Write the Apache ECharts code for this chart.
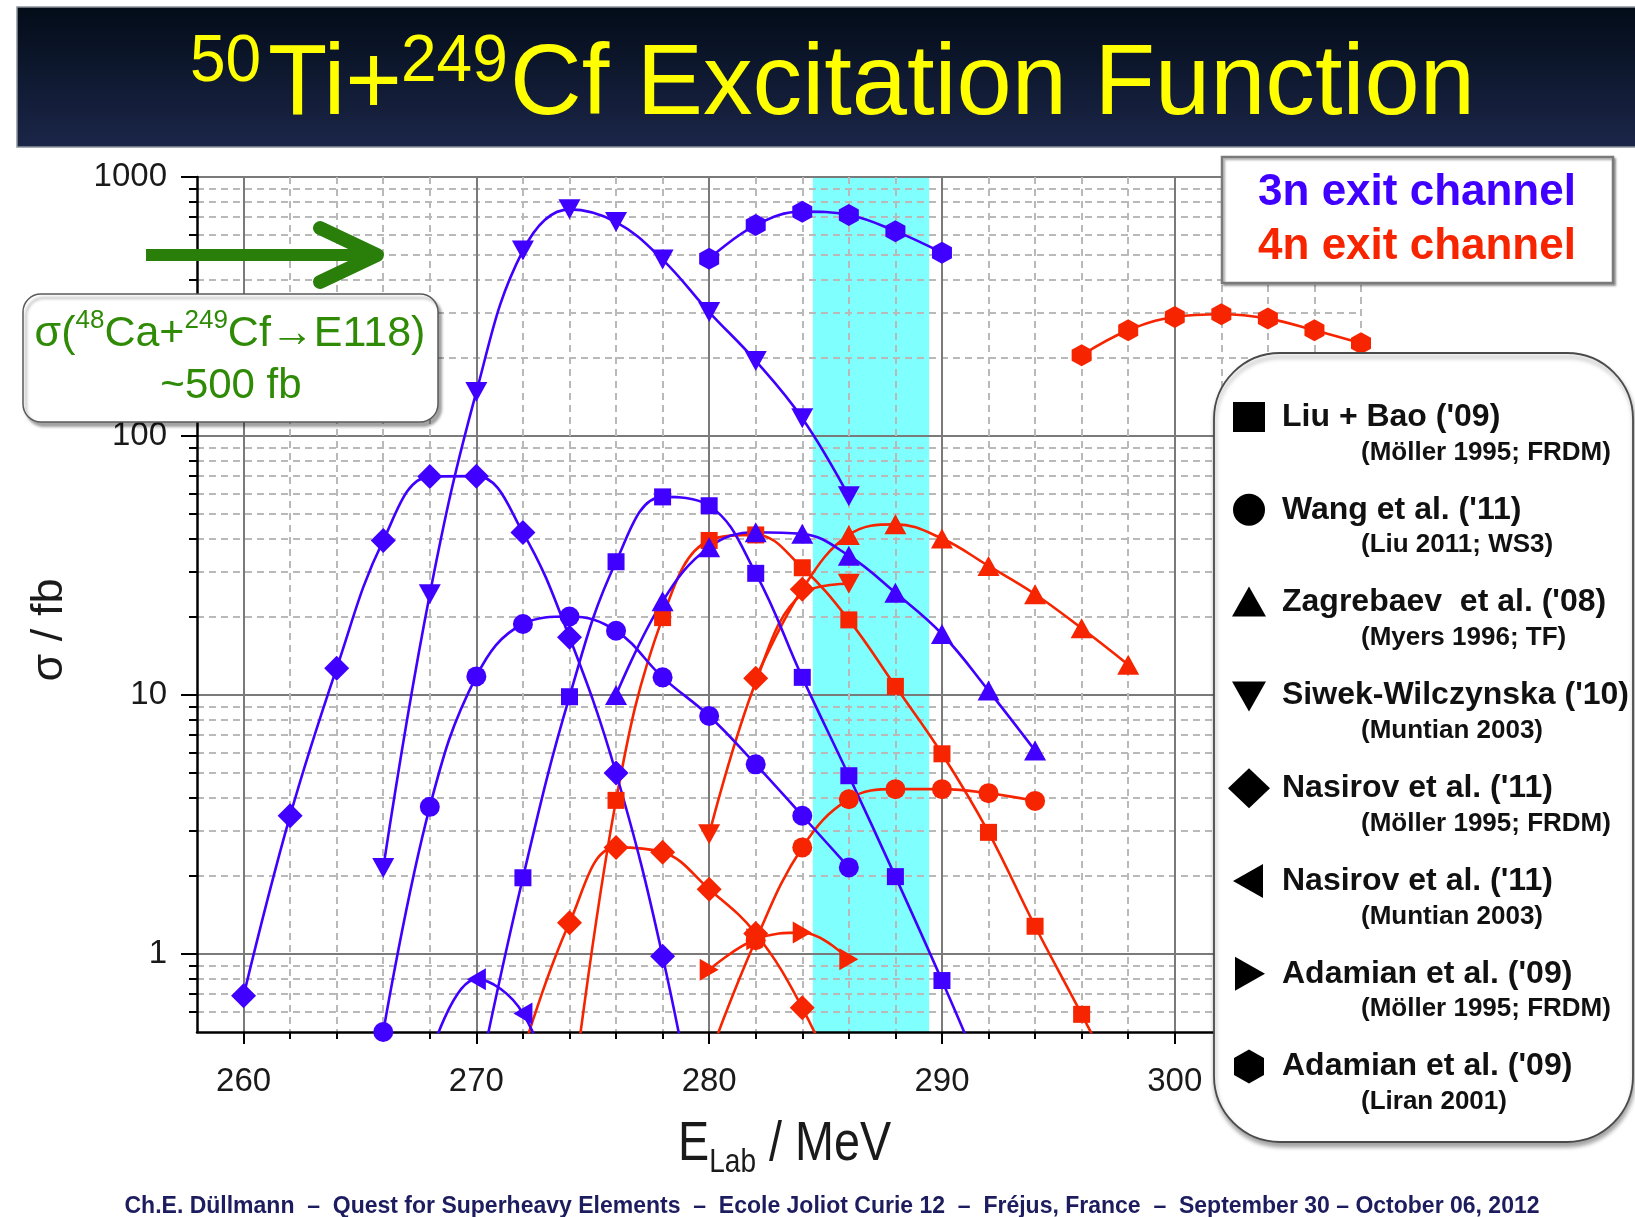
<!DOCTYPE html>
<html>
<head>
<meta charset="utf-8">
<title>50Ti+249Cf Excitation Function</title>
<script src="https://cdn.jsdelivr.net/npm/echarts@6/dist/echarts.min.js"></script>
<style>
  html, body { margin: 0; padding: 0; background: #ffffff; }
  #chart { width: 1635px; height: 1217px; }
</style>
</head>
<body>
<div id="chart"></div>
<script>
// ---------------------------------------------------------------
// Axis ticks (E_Lab in MeV, cross section in fb)
// ---------------------------------------------------------------
const X_MAJOR = [260, 270, 280, 290, 300];
const X_MINOR = [262, 264, 266, 268, 272, 274, 276, 278, 282, 284, 286, 288,
                 292, 294, 296, 298, 302, 304, 306, 308];
const Y_MAJOR = [1, 10, 100, 1000];
const Y_MINOR = [0.6, 0.7, 0.8, 0.9, 2, 3, 4, 5, 6, 7, 8, 9,
                 20, 30, 40, 50, 60, 70, 80, 90, 200, 300, 400, 500, 600, 700, 800, 900];

// Beam energy window (MeV) and the 48Ca+249Cf reference cross section (fb)
const BEAM_WINDOW = [284.45, 289.45];
const SIGMA_CA48 = 500;

// ---------------------------------------------------------------
// 3n exit channel  [E_Lab (MeV), sigma (fb)]
// ---------------------------------------------------------------
const LIU_3N      = [[270, 0.3], [272, 1.97], [274, 9.85], [276, 32.7], [278, 58.2], [280, 53.8],
                     [282, 29.5], [284, 11.7], [286, 4.88], [288, 1.99], [290, 0.79], [292, 0.3]];
const WANG_3N     = [[266, 0.5], [268, 3.7], [270, 11.8], [272, 18.8], [274, 20.1], [276, 17.7],
                     [278, 11.7], [280, 8.3], [282, 5.4], [284, 3.42], [286, 2.16]];
const ZAGREBAEV_3N = [[276, 10.0], [278, 23.0], [280, 37.2], [282, 42.5], [284, 41.9], [286, 34.5],
                     [288, 24.8], [290, 17.2], [292, 10.4], [294, 6.1]];
const SIWEK_3N    = [[266, 2.15], [268, 24.5], [270, 148], [272, 520], [274, 750], [276, 670],
                     [278, 480], [280, 301], [282, 195], [284, 117], [286, 58.5]];
const NASIROV_FRDM_3N = [[260, 0.69], [262, 3.42], [264, 12.7], [266, 39.5], [268, 69.7], [270, 70.0],
                     [272, 42.4], [274, 16.7], [276, 5.0], [278, 0.98], [280, 0.12]];
const NASIROV_MUNT_3N = [[268, 0.4], [270, 0.8], [272, 0.59], [274, 0.2]];
const ADAMIAN_LIRAN_3N = [[280, 484], [282, 652], [284, 735], [286, 713], [288, 618], [290, 510]];

// ---------------------------------------------------------------
// 4n exit channel  [E_Lab (MeV), sigma (fb)]
// ---------------------------------------------------------------
const LIU_4N      = [[274, 0.23], [276, 3.92], [278, 19.9], [280, 39.5], [282, 41.5], [284, 31.0],
                     [286, 19.5], [288, 10.8], [290, 5.93], [292, 2.95], [294, 1.28], [296, 0.585], [298, 0.26]];
const WANG_4N     = [[280, 0.4], [282, 1.13], [284, 2.58], [286, 3.96], [288, 4.33], [290, 4.33],
                     [292, 4.18], [294, 3.9]];
const ZAGREBAEV_4N = [[282, 11.6], [284, 25.6], [286, 41.5], [288, 45.6], [290, 40.2], [292, 31.5],
                     [294, 24.5], [296, 18.1], [298, 13.1]];
const SIWEK_4N    = [[280, 2.9], [282, 11.2], [284, 24.6], [286, 26.9]];
const NASIROV_FRDM_4N = [[272, 0.42], [274, 1.32], [276, 2.58], [278, 2.47], [280, 1.78], [282, 1.2],
                     [284, 0.62], [286, 0.25]];
const ADAMIAN_FRDM_4N = [[280, 0.87], [282, 1.14], [284, 1.21], [286, 0.954]];
const ADAMIAN_LIRAN_4N = [[296, 205], [298, 256], [300, 288], [302, 295], [304, 284], [306, 256], [308, 228]];

// Legend rows: marker, model, mass table
const LEGEND_ROWS = [
  ['square',  "Liu + Bao ('09)",          '(Möller 1995; FRDM)'],
  ['circle',  "Wang et al. ('11)",        '(Liu 2011; WS3)'],
  ['up',      "Zagrebaev  et al. ('08)",  '(Myers 1996; TF)'],
  ['down',    "Siwek-Wilczynska ('10)",   '(Muntian 2003)'],
  ['diamond', "Nasirov et al. ('11)",     '(Möller 1995; FRDM)'],
  ['left',    "Nasirov et al. ('11)",     '(Muntian 2003)'],
  ['right',   "Adamian et al. ('09)",     '(Möller 1995; FRDM)'],
  ['hex',     "Adamian et al. ('09)",     '(Liran 2001)']
];

// ---------------------------------------------------------------
// Styling
// ---------------------------------------------------------------
const FONT = '"Liberation Sans", Arial, Helvetica, sans-serif';
const BLUE = '#4000ff';
const RED = '#f72400';
const GREEN = '#2f8a06';

const SYM = {
  square: 'rect',
  circle: 'circle',
  up: 'triangle',
  down: 'path://M0,0L2,0L1,1.75Z',
  diamond: 'diamond',
  left: 'path://M1.75,0L0,1L1.75,2Z',
  right: 'path://M0,0L1.75,1L0,2Z',
  hex: 'path://M1,0L1.87,0.5L1.87,1.5L1,2L0.13,1.5L0.13,0.5Z'
};
const SYM_SIZE = {
  square: [17, 17], circle: [20, 20], up: [22, 20], down: [22, 20],
  diamond: [25, 25], left: [19, 22], right: [19, 22], hex: [20, 22]
};

function curve(name, data, color, shape, overrides) {
  return {
    type: 'line',
    name: name,
    xAxisIndex: 0,
    yAxisIndex: 0,
    z: 3,
    data: data.map(function (p) {
      const o = overrides && overrides[p[0]];
      return o ? Object.assign({ value: p }, o) : p;
    }),
    smooth: 0.4,
    symbol: SYM[shape],
    symbolSize: SYM_SIZE[shape],
    showAllSymbol: true,
    clip: true,
    silent: true,
    lineStyle: { color: color, width: 2.6 },
    itemStyle: { color: color, borderWidth: 0 },
    emphasis: { disabled: true },
    animation: false
  };
}

const diamondAt = { symbol: SYM.diamond, symbolSize: SYM_SIZE.diamond };
const hiddenAt = { symbol: 'none' };

const series = [
  // beam energy window
  {
    type: 'line', name: 'window', xAxisIndex: 0, yAxisIndex: 0, data: [], z: 1, silent: true,
    animation: false,
    markArea: {
      silent: true,
      itemStyle: { color: '#80ffff' },
      data: [[{ xAxis: BEAM_WINDOW[0] }, { xAxis: BEAM_WINDOW[1] }]]
    }
  },
  // 4n
  curve('Liu 4n', LIU_4N, RED, 'square'),
  curve('Wang 4n', WANG_4N, RED, 'circle'),
  curve('Siwek 4n', SIWEK_4N, RED, 'down', { 282: hiddenAt, 284: hiddenAt }),
  curve('Zagrebaev 4n', ZAGREBAEV_4N, RED, 'up', { 282: diamondAt, 284: diamondAt }),
  curve('Nasirov FRDM 4n', NASIROV_FRDM_4N, RED, 'diamond'),
  curve('Adamian FRDM 4n', ADAMIAN_FRDM_4N, RED, 'right'),
  curve('Adamian Liran 4n', ADAMIAN_LIRAN_4N, RED, 'hex'),
  // 3n
  curve('Liu 3n', LIU_3N, BLUE, 'square'),
  curve('Wang 3n', WANG_3N, BLUE, 'circle'),
  curve('Zagrebaev 3n', ZAGREBAEV_3N, BLUE, 'up'),
  curve('Siwek 3n', SIWEK_3N, BLUE, 'down'),
  curve('Nasirov FRDM 3n', NASIROV_FRDM_3N, BLUE, 'diamond'),
  curve('Nasirov Muntian 3n', NASIROV_MUNT_3N, BLUE, 'left'),
  curve('Adamian Liran 3n', ADAMIAN_LIRAN_3N, BLUE, 'hex')
];

const axisFont = { color: '#1a1a1a', fontSize: 33, fontFamily: FONT, formatter: function (v) { return String(v); } };

const option = {
  backgroundColor: '#ffffff',
  animation: false,
  grid: { left: 197, top: 177, width: 1164, height: 855, containLabel: false },
  xAxis: [
    {
      type: 'value', position: 'bottom', min: 258, max: 308, z: 2,
      axisLine: { onZero: false, lineStyle: { color: '#000', width: 2.5 } },
      axisTick: { customValues: X_MAJOR, length: 12, lineStyle: { color: '#000', width: 2 } },
      axisLabel: Object.assign({ customValues: X_MAJOR, margin: 33 }, axisFont),
      splitLine: { show: true, lineStyle: { color: '#7a7a7a', width: 2 } }
    },
    {
      type: 'value', position: 'bottom', min: 258, max: 308, z: 2,
      axisLine: { show: false, onZero: false },
      axisTick: { customValues: X_MINOR, length: 7, lineStyle: { color: '#000', width: 2 } },
      axisLabel: { show: false },
      splitLine: { show: true, lineStyle: { color: '#b9b9b9', width: 2, type: [7, 5] } }
    }
  ],
  yAxis: [
    {
      type: 'log', logBase: 10, position: 'left', min: 0.5, max: 1000, z: 2,
      axisLine: { onZero: false, lineStyle: { color: '#000', width: 2.5 } },
      axisTick: { customValues: Y_MAJOR, length: 16, lineStyle: { color: '#000', width: 2 } },
      axisLabel: Object.assign({ customValues: Y_MAJOR, margin: 30 }, axisFont),
      splitLine: { show: true, lineStyle: { color: '#7a7a7a', width: 2 } }
    },
    {
      type: 'log', logBase: 10, position: 'left', min: 0.5, max: 1000, z: 2,
      axisLine: { show: false, onZero: false },
      axisTick: { customValues: Y_MINOR, length: 8, lineStyle: { color: '#000', width: 2 } },
      axisLabel: { show: false },
      splitLine: { show: true, lineStyle: { color: '#b9b9b9', width: 2, type: [7, 5] } }
    }
  ],
  series: series
};

const chart = echarts.init(document.getElementById('chart'), null, { renderer: 'canvas' });
chart.setOption(option);

// ---------------------------------------------------------------
// Annotations, title and the model legend
// ---------------------------------------------------------------
function text(x, y, str, size, color, extra) {
  return Object.assign({
    type: 'text', x: x, y: y, z: 60, silent: true,
    style: Object.assign({
      text: str, fontSize: size, fontFamily: FONT, fill: color,
      align: 'left', textAlign: 'left', verticalAlign: 'middle', textVerticalAlign: 'middle'
    }, (extra && extra.style) || {})
  }, extra && extra.el);
}

function marker(shape, cx, cy) {
  const fill = { fill: '#000' };
  switch (shape) {
    case 'square': return { type: 'rect', shape: { x: cx - 16, y: cy - 15, width: 32, height: 30 }, style: fill, z: 60 };
    case 'circle': return { type: 'circle', shape: { cx: cx, cy: cy, r: 16 }, style: fill, z: 60 };
    case 'up': return { type: 'polygon', shape: { points: [[cx - 17, cy + 14], [cx + 17, cy + 14], [cx, cy - 16]] }, style: fill, z: 60 };
    case 'down': return { type: 'polygon', shape: { points: [[cx - 17, cy - 14], [cx + 17, cy - 14], [cx, cy + 16]] }, style: fill, z: 60 };
    case 'diamond': return { type: 'polygon', shape: { points: [[cx - 21, cy], [cx, cy - 20], [cx + 21, cy], [cx, cy + 20]] }, style: fill, z: 60 };
    case 'left': return { type: 'polygon', shape: { points: [[cx + 14, cy - 17], [cx + 14, cy + 17], [cx - 16, cy]] }, style: fill, z: 60 };
    case 'right': return { type: 'polygon', shape: { points: [[cx - 14, cy - 17], [cx - 14, cy + 17], [cx + 16, cy]] }, style: fill, z: 60 };
    default: return { type: 'polygon', shape: { points: [[cx, cy - 17], [cx + 15, cy - 8.5], [cx + 15, cy + 8.5], [cx, cy + 17], [cx - 15, cy + 8.5], [cx - 15, cy - 8.5]] }, style: fill, z: 60 };
  }
}

const arrowY = chart.convertToPixel({ yAxisIndex: 0 }, SIGMA_CA48);

const g = [];

// title bar
g.push({
  type: 'rect', z: 50, silent: true,
  shape: { x: 17, y: 7, width: 1630, height: 140 },
  style: {
    fill: new echarts.graphic.LinearGradient(0, 0, 0, 1, [
      { offset: 0, color: '#030c18' }, { offset: 1, color: '#1b2649' }
    ]),
    stroke: '#8d939c', lineWidth: 1.5
  }
});
g.push(text(190, 63, '50', 66, '#ffff00', { el: { scaleX: 0.97 } }));
g.push(text(268, 86, 'Ti+', 100, '#ffff00', { el: { scaleX: 0.97 } }));
g.push(text(401, 63, '249', 66, '#ffff00', { el: { scaleX: 0.97 } }));
g.push(text(510, 86, 'Cf Excitation Function', 100, '#ffff00', { el: { scaleX: 0.992 } }));

// green arrow pointing at the 48Ca+249Cf level
g.push({
  type: 'polyline', z: 55, silent: true,
  shape: { points: [[146, arrowY], [372, arrowY]] },
  style: { stroke: '#2a7e0a', lineWidth: 12, lineCap: 'butt' }
});
g.push({
  type: 'polyline', z: 55, silent: true,
  shape: { points: [[320, arrowY - 27], [377, arrowY], [320, arrowY + 27]] },
  style: { stroke: '#2a7e0a', lineWidth: 14, lineCap: 'round', lineJoin: 'round', fill: null }
});

// 48Ca reference box
g.push({
  type: 'rect', z: 56, silent: true,
  shape: { x: 23, y: 294, width: 415, height: 128, r: 18 },
  style: { fill: '#ffffff', stroke: '#5a5a5a', lineWidth: 1.5,
           shadowBlur: 3, shadowOffsetX: 3, shadowOffsetY: 4, shadowColor: 'rgba(0,0,0,0.35)' }
});
g.push({
  type: 'text', x: 230, y: 334, z: 60, silent: true,
  style: {
    text: '{m|σ(}{s|48}{m|Ca+}{s|249}{m|Cf→E118)}',
    align: 'center', textAlign: 'center', verticalAlign: 'middle', textVerticalAlign: 'middle',
    rich: {
      m: { fontSize: 43, fontFamily: FONT, fill: GREEN, lineHeight: 52, verticalAlign: 'middle' },
      s: { fontSize: 26, fontFamily: FONT, fill: GREEN, lineHeight: 26, verticalAlign: 'top' }
    }
  }
});
g.push(text(231, 386, '~500 fb', 42, GREEN, { style: { align: 'center', textAlign: 'center' } }));

// exit channel box
g.push({
  type: 'rect', z: 56, silent: true,
  shape: { x: 1222, y: 157, width: 391, height: 126 },
  style: { fill: '#ffffff', stroke: '#7a7a7a', lineWidth: 2.5,
           shadowBlur: 2, shadowOffsetX: 2, shadowOffsetY: 2, shadowColor: 'rgba(0,0,0,0.3)' }
});
g.push(text(1417, 193, '3n exit channel', 44, BLUE, { style: { fontWeight: 'bold', align: 'center', textAlign: 'center' } }));
g.push(text(1417, 247, '4n exit channel', 44, RED, { style: { fontWeight: 'bold', align: 'center', textAlign: 'center' } }));

// model legend box
g.push({
  type: 'rect', z: 56, silent: true,
  shape: { x: 1214, y: 353, width: 419, height: 789, r: 66 },
  style: { fill: '#ffffff', stroke: '#4a4a4a', lineWidth: 1.8,
           shadowBlur: 4, shadowOffsetX: 1, shadowOffsetY: 4, shadowColor: 'rgba(0,0,0,0.35)' }
});
LEGEND_ROWS.forEach(function (row, i) {
  const y = 417 + i * 92.8;
  g.push(marker(row[0], 1249, y));
  g.push(text(1282, y, row[1], 32, '#111111', { style: { fontWeight: 'bold' } }));
  g.push(text(1361, y + 35.5, row[2], 26, '#111111', { style: { fontWeight: 'bold' } }));
});

// axis titles
g.push({
  type: 'text', x: 50, y: 630, z: 60, silent: true, rotation: Math.PI / 2,
  style: {
    text: 'σ / fb', fontSize: 45, fontFamily: FONT, fill: '#1a1a1a',
    align: 'center', textAlign: 'center', verticalAlign: 'middle', textVerticalAlign: 'middle'
  }
});
g.push({
  type: 'text', x: 678, y: 1117, z: 60, silent: true, scaleX: 0.85,
  style: {
    text: '{m|E}{s|Lab}{m| / MeV}',
    align: 'left', textAlign: 'left', verticalAlign: 'top', textVerticalAlign: 'top',
    rich: {
      m: { fontSize: 55, fontFamily: FONT, fill: '#1a1a1a', lineHeight: 62, verticalAlign: 'top' },
      s: { fontSize: 33, fontFamily: FONT, fill: '#1a1a1a', lineHeight: 33, padding: [37, 0, 0, 0], verticalAlign: 'bottom' }
    }
  }
});

// footer
g.push(text(832, 1207,
  'Ch.E. Düllmann  –  Quest for Superheavy Elements  –  Ecole Joliot Curie 12  –  Fréjus, France  –  September 30 – October 06, 2012',
  23, '#1c1c5e', { style: { fontWeight: 'bold', align: 'center', textAlign: 'center' } }));

chart.setOption({ graphic: { elements: g } });
</script>
</body>
</html>
